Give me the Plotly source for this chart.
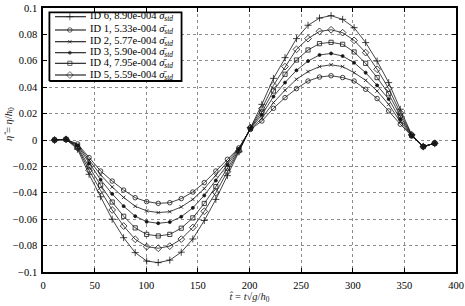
import plotly.graph_objects as go

# ---- data ----
t_hat = [11.2, 22.3, 33.5, 44.6, 55.8, 67.0, 78.1, 89.3, 100.4, 111.6, 122.8, 133.9,
         145.1, 156.2, 167.4, 178.6, 189.7, 200.9, 212.0, 223.2, 234.4, 245.5, 256.7,
         267.8, 279.0, 290.2, 301.3, 312.5, 323.6, 334.8, 346.0, 357.1, 368.3, 379.4]

id6 = [0, 0.0005, -0.007, -0.026, -0.043, -0.060, -0.074, -0.0853, -0.0917, -0.0929,
       -0.091, -0.085, -0.075, -0.061, -0.045, -0.027, -0.009, 0.0095, 0.027, 0.0467,
       0.0624, 0.0768, 0.0869, 0.0924, 0.0942, 0.0914, 0.0851, 0.0738, 0.0598, 0.0435,
       0.0233, 0.004, -0.005, -0.0025]
id1 = [0, 0.0005, -0.003, -0.0133, -0.0235, -0.0311, -0.0379, -0.0437, -0.0467, -0.048,
       -0.0475, -0.0444, -0.0394, -0.0323, -0.0235, -0.0146, -0.006, 0.008, 0.0144, 0.024,
       0.0321, 0.0389, 0.0447, 0.0477, 0.0487, 0.0473, 0.0447, 0.0384, 0.0314, 0.022,
       0.012, 0.003, -0.005, -0.0025]
id2 = [0, 0.0005, -0.0036, -0.0153, -0.0265, -0.0356, -0.0435, -0.0502, -0.0537, -0.055,
       -0.0543, -0.0507, -0.045, -0.0368, -0.0269, -0.0165, -0.0065, 0.0084, 0.0164, 0.0283,
       0.0377, 0.046, 0.0518, 0.0556, 0.057, 0.0556, 0.051, 0.0452, 0.0371, 0.027,
       0.0138, 0.0032, -0.005, -0.0025]
id3 = [0, 0.0005, -0.0043, -0.0176, -0.0301, -0.0408, -0.0501, -0.0577, -0.0619, -0.0631,
       -0.0622, -0.0581, -0.0514, -0.042, -0.0307, -0.0188, -0.007, 0.0087, 0.019, 0.0329,
       0.0435, 0.0528, 0.0598, 0.0644, 0.0656, 0.0636, 0.0586, 0.051, 0.0414, 0.031,
       0.0158, 0.0034, -0.005, -0.0025]
id4 = [0, 0.0005, -0.0052, -0.0203, -0.0342, -0.047, -0.0578, -0.0666, -0.0715, -0.0727,
       -0.0715, -0.0668, -0.059, -0.0481, -0.0353, -0.0214, -0.0077, 0.009, 0.0212, 0.0371,
       0.0498, 0.0606, 0.0682, 0.073, 0.074, 0.0725, 0.0667, 0.0581, 0.0473, 0.035,
       0.0182, 0.0036, -0.005, -0.0025]
id5 = [0, 0.0005, -0.006, -0.0229, -0.0383, -0.053, -0.0652, -0.0752, -0.0808, -0.082,
       -0.0804, -0.0751, -0.0663, -0.054, -0.0398, -0.024, -0.0083, 0.0092, 0.0238, 0.0414,
       0.0556, 0.0687, 0.0768, 0.0823, 0.0835, 0.0813, 0.0755, 0.0662, 0.0536, 0.039,
       0.0206, 0.0038, -0.005, -0.0025]

series_names = ["ID 6", "ID 1", "ID 2", "ID 3", "ID 4", "ID 5"]
series_std = ["8.90e-004", "5.33e-004", "5.77e-004", "5.90e-004", "7.95e-004", "5.59e-004"]
series_vals = [id6, id1, id2, id3, id4, id5]

x_ticks = [0, 50, 100, 150, 200, 250, 300, 350, 400]
y_ticks = [-0.1, -0.08, -0.06, -0.04, -0.02, 0, 0.02, 0.04, 0.06, 0.08, 0.1]

# ---- styles ----
symbols = ["cross-thin-open", "circle-open", "x-thin-open", "circle", "square-open", "diamond-open"]
sizes = [5, 4.5, 3.5, 3, 4.2, 5.2]
LINE = "#151515"
SERIF = "Liberation Serif, Times New Roman, serif"

fig = go.Figure()
for name, vals, sym, sz in zip(series_names, series_vals, symbols, sizes):
    fig.add_trace(go.Scatter(
        x=t_hat, y=vals, mode="lines+markers", name=name, showlegend=False,
        line=dict(color=LINE, width=0.8),
        marker=dict(symbol=sym, size=sz, color=LINE, line=dict(color=LINE, width=0.8)),
        xaxis="x", yaxis="y"))

# ---- custom legend (drawn on an overlay axis in 0..1 units) ----
bx0, bx1, by0, by1 = 0.0155, 0.3355, 0.7235, 0.9835
fig.add_trace(go.Scatter(
    x=[bx0, bx1, bx1, bx0, bx0], y=[by0, by0, by1, by1, by0], mode="lines",
    fill="toself", fillcolor="white", line=dict(color="black", width=1.8),
    showlegend=False, hoverinfo="skip", xaxis="x2", yaxis="y2"))

row_y = [0.967, 0.9167, 0.8723, 0.8307, 0.7905, 0.7462]
for name, std, sym, sz, ry in zip(series_names, series_std, symbols, sizes, row_y):
    fig.add_trace(go.Scatter(
        x=[0.029, 0.065, 0.104], y=[ry, ry, ry], mode="lines+markers", showlegend=False,
        line=dict(color=LINE, width=1.1),
        marker=dict(symbol=sym, size=[0, sz, 0], color=LINE, line=dict(color=LINE, width=0.9)),
        xaxis="x2", yaxis="y2", hoverinfo="skip"))
    fig.add_annotation(
        xref="x2", yref="y2", x=0.108, y=ry, xanchor="left", yanchor="middle",
        showarrow=False,
        text=f"{name}, {std} <i>σ̄</i><sub><i>std</i></sub>",
        font=dict(family=SERIF, size=10.5, color="black"))

axis_common = dict(
    showline=True, linecolor="black", linewidth=1.5, mirror="ticks",
    ticks="inside", ticklen=4, tickwidth=1, tickcolor="black",
    showgrid=True, gridcolor="#8c8c8c", gridwidth=1, griddash="dot",
    zeroline=False, automargin=False,
    tickfont=dict(family=SERIF, size=10.5, color="black"),
)

fig.update_layout(
    width=465, height=306,
    margin=dict(l=43, r=9, t=8, b=34, pad=0),
    paper_bgcolor="white", plot_bgcolor="white",
    showlegend=False,
    xaxis=dict(range=[0, 400], tickvals=x_ticks, ticklabelstandoff=3, **axis_common),
    yaxis=dict(range=[-0.1, 0.1], tickvals=y_ticks, ticklabelstandoff=2, **axis_common),
    xaxis2=dict(range=[0, 1], overlaying="x", visible=False, fixedrange=True, automargin=False),
    yaxis2=dict(range=[0, 1], overlaying="y", visible=False, fixedrange=True, automargin=False),
)

# axis titles as annotations
fig.add_annotation(xref="paper", yref="paper", x=0.5, y=-0.095, xanchor="center", yanchor="middle",
                   showarrow=False,
                   text="<i>t̂</i> = <i>t</i>√<i>g</i>/<i>h</i><sub>0</sub>",
                   font=dict(family=SERIF, size=10.5, color="#222"))
fig.add_annotation(xref="paper", yref="paper", x=-0.083, y=0.56, xanchor="center", yanchor="middle",
                   showarrow=False, textangle=-90,
                   text="<i>η̂</i> = <i>η</i>/<i>h</i><sub>0</sub>",
                   font=dict(family=SERIF, size=10.5, color="#222"))

fig.write_html("out.html")
